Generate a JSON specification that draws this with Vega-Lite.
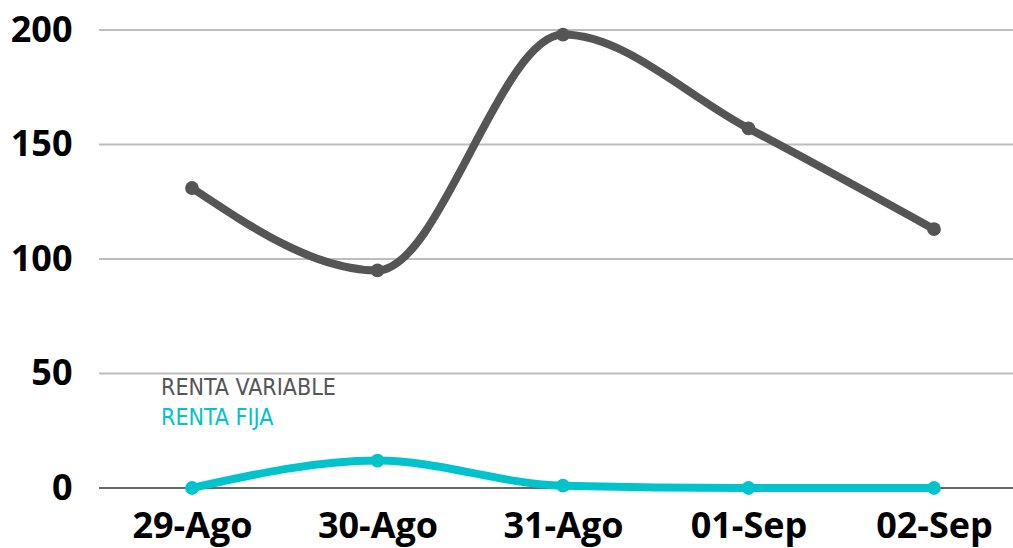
{
  "$schema": "https://vega.github.io/schema/vega-lite/v6.json",
  "autosize": "none",
  "width": 914,
  "height": 458,
  "padding": {"left": 99, "top": 30, "right": 0, "bottom": 60},
  "background": "white",
  "config": {"view": {"stroke": null}},
  "datasets": {
    "series": [
      {"fecha": "29-Ago", "serie": "RENTA VARIABLE", "valor": 131},
      {"fecha": "30-Ago", "serie": "RENTA VARIABLE", "valor": 95},
      {"fecha": "31-Ago", "serie": "RENTA VARIABLE", "valor": 198},
      {"fecha": "01-Sep", "serie": "RENTA VARIABLE", "valor": 157},
      {"fecha": "02-Sep", "serie": "RENTA VARIABLE", "valor": 113},
      {"fecha": "29-Ago", "serie": "RENTA FIJA", "valor": 0},
      {"fecha": "30-Ago", "serie": "RENTA FIJA", "valor": 12},
      {"fecha": "31-Ago", "serie": "RENTA FIJA", "valor": 1},
      {"fecha": "01-Sep", "serie": "RENTA FIJA", "valor": 0},
      {"fecha": "02-Sep", "serie": "RENTA FIJA", "valor": 0}
    ],
    "leyenda": [
      {"fecha": "29-Ago", "serie": "RENTA VARIABLE", "valor": 43.7},
      {"fecha": "29-Ago", "serie": "RENTA FIJA", "valor": 30.6}
    ],
    "rejilla": [
      {"valor": 0}, {"valor": 50}, {"valor": 100}, {"valor": 150}, {"valor": 200}
    ]
  },
  "encoding": {
    "y": {
      "field": "valor",
      "type": "quantitative",
      "scale": {"domain": [0, 200], "nice": false},
      "axis": {
        "title": null,
        "values": [0, 50, 100, 150, 200],
        "ticks": false,
        "domain": false,
        "grid": false,
        "labelFont": "Open Sans",
        "labelFontWeight": "bold",
        "labelFontSize": 36,
        "labelColor": "#000000",
        "labelPadding": 27
      }
    }
  },
  "layer": [
    {
      "data": {"name": "rejilla"},
      "mark": {"type": "rule", "strokeWidth": 2},
      "encoding": {
        "color": {"condition": {"test": "datum.valor === 0", "value": "#666666"}, "value": "#bdbdbd"}
      }
    },
    {
      "data": {"name": "series"},
      "encoding": {
        "x": {
          "field": "fecha",
          "type": "ordinal",
          "sort": ["29-Ago", "30-Ago", "31-Ago", "01-Sep", "02-Sep"],
          "scale": {"type": "point", "range": [93, 835], "padding": 0},
          "axis": {
            "title": null,
            "labelAngle": 0,
            "ticks": false,
            "domain": false,
            "grid": false,
            "labelFont": "Open Sans",
            "labelFontWeight": "bold",
            "labelFontSize": 36,
            "labelColor": "#000000",
            "labelPadding": 21
          }
        },
        "color": {
          "field": "serie",
          "type": "nominal",
          "scale": {"domain": ["RENTA VARIABLE", "RENTA FIJA"], "range": ["#555555", "#00c3cc"]},
          "legend": null
        }
      },
      "layer": [
        {"mark": {"type": "line", "interpolate": "monotone", "strokeWidth": 8, "strokeCap": "round"}},
        {"mark": {"type": "circle", "size": 190, "opacity": 1}}
      ]
    },
    {
      "data": {"name": "leyenda"},
      "mark": {"type": "text", "align": "left", "baseline": "middle", "dx": -31, "font": "Liberation Sans Narrow, DejaVu Sans Condensed, sans-serif", "fontSize": 23},
      "encoding": {
        "x": {"field": "fecha", "type": "ordinal", "sort": ["29-Ago", "30-Ago", "31-Ago", "01-Sep", "02-Sep"]},
        "text": {"field": "serie"},
        "color": {"field": "serie", "type": "nominal", "legend": null}
      }
    }
  ]
}
